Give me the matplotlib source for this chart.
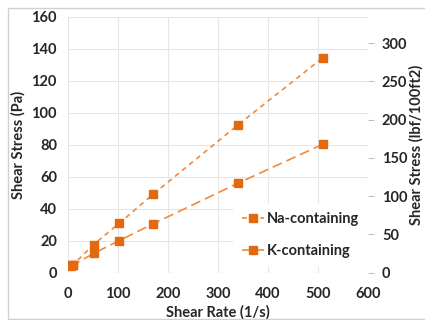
import matplotlib
matplotlib.use("Agg")
import matplotlib.pyplot as plt
from matplotlib.patches import Rectangle

# shear rate (1/s) and shear stress (Pa)
shear_rate = [5.1, 10.2, 51, 102, 170, 340, 510]
na_stress = [4.5, 5.0, 17.5, 30.8, 49.0, 92.5, 134.6]
k_stress = [4.3, 4.8, 12.0, 20.0, 30.5, 56.0, 80.4]

pa_to_lbf = 2.0885  # Pa -> lbf/100ft2

plt.rcParams['font.family'] = ['Lato', 'DejaVu Sans']
plt.rcParams['font.weight'] = 'bold'

line_col = '#F08A3E'
mark_col = '#E2690F'
grid_col = '#E6E6E6'
text_col = '#262626'
fs = 10.5

fig = plt.figure(figsize=(4.25, 3.2), dpi=100)
ax = fig.add_axes([0.16, 0.148, 0.706, 0.799])

# chart area border (right edge is cut off in the original)
fig.patches.append(Rectangle((7.5 / 425, 1.5 / 320), 1.2, 310.5 / 320,
                             transform=fig.transFigure, fill=False,
                             edgecolor='#D0D0D0', linewidth=1.0))

ax.plot(shear_rate, na_stress, linestyle=(0, (3, 2.5)), color=line_col, lw=1.2,
        marker='s', markersize=5.5, markerfacecolor=mark_col, markeredgecolor=mark_col,
        label='Na-containing', zorder=3)
ax.plot(shear_rate, k_stress, linestyle=(0, (6, 3)), color=line_col, lw=1.2,
        marker='s', markersize=5.5, markerfacecolor=mark_col, markeredgecolor=mark_col,
        label='K-containing', zorder=3)

ax.set_xlim(0, 600)
ax.set_ylim(0, 160)
ax.set_xticks(range(0, 601, 100))
ax.set_yticks(range(0, 161, 20))
ax.grid(True, color=grid_col, lw=0.8)
ax.set_axisbelow(True)
for s in ax.spines.values():
    s.set_visible(False)
ax.tick_params(axis='y', length=0, labelsize=fs, colors=text_col, pad=8)
ax.tick_params(axis='x', length=0, labelsize=fs, colors=text_col, pad=10)
ax.set_xlabel('Shear Rate (1/s)', fontsize=fs, fontweight='bold', color=text_col, labelpad=3)
ax.set_ylabel('Shear Stress (Pa)', fontsize=fs, fontweight='bold', color=text_col, labelpad=4)

ax2 = ax.twinx()
ax2.set_ylim(0, 160 * pa_to_lbf)
ax2.set_yticks(range(0, 301, 50))
for s in ax2.spines.values():
    s.set_visible(False)
ax2.tick_params(axis='y', length=4, color='#BFBFBF', labelsize=fs, labelcolor=text_col, pad=6)
ax2.set_ylabel('Shear Stress (lbf/100ft2)', fontsize=fs, fontweight='bold', color=text_col,
               rotation=90, labelpad=1)

leg = ax.legend(loc='lower right', bbox_to_anchor=(1.025, -0.005), frameon=True, fancybox=False,
                edgecolor='none', facecolor='white', framealpha=1, fontsize=fs,
                handlelength=1.5, handletextpad=0.25, labelspacing=1.2, borderpad=0.6)
for t in leg.get_texts():
    t.set_color(text_col)
    t.set_fontweight('bold')

fig.savefig('out.png', dpi=100)
